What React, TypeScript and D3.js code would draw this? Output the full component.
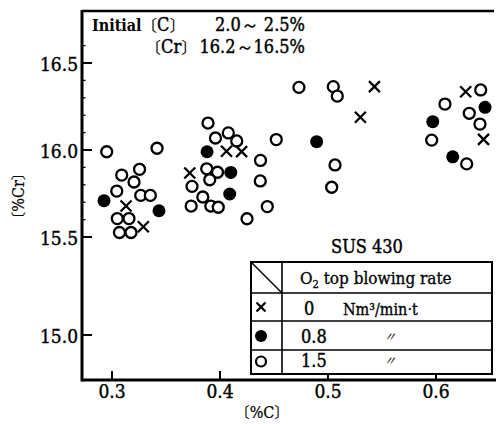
import React from "react";
import * as d3 from "d3";

const crossC = [0.313, 0.329, 0.406, 0.420, 0.372, 0.543, 0.530, 0.6275, 0.644];
const crossCr = [15.678, 15.559, 15.993, 15.991, 15.868, 16.364, 16.188, 16.335, 16.061];

const filledC = [0.2926, 0.3435, 0.388, 0.410, 0.409, 0.4895, 0.597, 0.6454, 0.6155];
const filledCr = [15.709, 15.651, 15.990, 15.871, 15.747, 16.048, 16.163, 16.245, 15.961];

const openC = [
  0.2951, 0.3417, 0.3255, 0.309, 0.3204, 0.3044, 0.3266, 0.3355, 0.3049, 0.3157, 0.3069, 0.3176,
  0.3889, 0.3958, 0.4077, 0.4155, 0.4521, 0.4375, 0.3877, 0.3977, 0.3905, 0.3741, 0.4373, 0.3841,
  0.3733, 0.3915, 0.3984, 0.4438, 0.425,
  0.4731, 0.5049, 0.5086, 0.5065, 0.5034,
  0.6414, 0.6083, 0.6308, 0.6407, 0.596, 0.6284,
];
const openCr = [
  15.990, 16.010, 15.889, 15.856, 15.816, 15.764, 15.739, 15.739, 15.606, 15.606, 15.526, 15.526,
  16.155, 16.069, 16.098, 16.052, 16.060, 15.940, 15.892, 15.872, 15.829, 15.791, 15.822, 15.730,
  15.678, 15.678, 15.671, 15.675, 15.605,
  16.360, 16.364, 16.310, 15.914, 15.786,
  16.345, 16.264, 16.211, 16.149, 16.057, 15.920,
];

const xTicks = [0.3, 0.4, 0.5, 0.6];
const xTickLabels = ["0.3", "0.4", "0.5", "0.6"];
const yTicks = [15.0, 15.5, 16.0, 16.5];
const yTickLabels = ["15.0", "15.5", "16.0", "16.5"];
const yMinor = [15.6, 15.7, 15.8, 15.9, 16.1, 16.2, 16.3, 16.4, 16.6];

const legendRates = ["0", "0.8", "1.5"];
const legendUnits = ["Nm³/min·t", "〃", "〃"];

const DSERIF = "'DejaVu Serif', serif";
const CJK = "'Noto Sans CJK JP', sans-serif";

function Cross({ x, y, s = 5.5 }: { x: number; y: number; s?: number }) {
  return (
    <g stroke="#000" strokeWidth={2.3} strokeLinecap="butt">
      <line x1={x - s} y1={y - s} x2={x + s} y2={y + s} />
      <line x1={x - s} y1={y + s} x2={x + s} y2={y - s} />
    </g>
  );
}

const num = { fontFamily: DSERIF, fontStretch: "condensed", stroke: "#000", strokeWidth: 0.4 } as const;
const boldNum = { fontFamily: DSERIF, fontStretch: "condensed", fontWeight: "bold" } as const;
const br = { fontFamily: CJK, fontSize: 16, stroke: "none" } as const;

export default function App() {
  const W = 496, H = 424;
  const x = d3.scaleLinear().domain([0.3, 0.6]).range([112, 436]);
  const y = d3.scaleLinear().domain([15.0, 15.5, 16.5]).range([335, 237, 63]);
  const left = 82, top = 11, bottom = 380, right = 495;

  const lx0 = 251, lx1 = 492, lsep = 282;
  const rows = [262, 293, 321, 350, 374];
  const symX = 261;
  const rowSymY = [307, 336, 361.5];
  const rowTextY = [315, 343, 367];

  return (
    <svg width={W} height={H} style={{ position: "absolute", left: 0, top: 0, background: "#fff" }}>
      <rect width={W} height={H} fill="#fff" />
      <line x1={left} y1={top - 1} x2={left} y2={bottom + 1.5} stroke="#000" strokeWidth={3} />
      <line x1={left} y1={top} x2={right - 1} y2={top} stroke="#000" strokeWidth={2.5} />
      <line x1={left} y1={bottom} x2={W} y2={bottom} stroke="#000" strokeWidth={3} />

      {yTicks.map((t, i) => (
        <g key={"yt" + i}>
          <line x1={left} x2={left + 10} y1={y(t)} y2={y(t)} stroke="#000" strokeWidth={2} />
          <text x={78} y={y(t) + 8} textAnchor="end" fontSize={19} {...num}>
            {yTickLabels[i]}
          </text>
        </g>
      ))}
      {yMinor.map((t, i) => (
        <line key={"ym" + i} x1={left} x2={left + 3.5} y1={y(t)} y2={y(t)} stroke="#000" strokeWidth={1.3} />
      ))}

      {xTicks.map((t, i) => (
        <g key={"xt" + i}>
          <line x1={x(t)} x2={x(t)} y1={bottom} y2={bottom - 9} stroke="#000" strokeWidth={2} />
          <text x={x(t)} y={398} textAnchor="middle" fontSize={19} {...num}>
            {xTickLabels[i]}
          </text>
        </g>
      ))}

      {/* axis titles */}
      <text x={262} y={418} textAnchor="middle" fontSize={16} {...num} strokeWidth={0.2}>
        <tspan {...br} fontSize={15}>〔</tspan>%C<tspan {...br} fontSize={15}>〕</tspan>
      </text>
      <text transform="translate(24,196) rotate(-90)" textAnchor="middle" fontSize={16} {...num} strokeWidth={0.2}>
        <tspan {...br} fontSize={15}>〔</tspan>%Cr<tspan {...br} fontSize={15}>〕</tspan>
      </text>

      {/* initial composition */}
      <text x={92} y={31} fontSize={16} {...boldNum}>Initial</text>
      <text x={141} y={31} fontSize={18} {...num}>
        <tspan {...br}>〔</tspan>C<tspan {...br}>〕</tspan>
      </text>
      <text x={305} y={31} textAnchor="end" fontSize={18} {...num}>2.0～ 2.5%</text>
      <text x={145} y={53} fontSize={18} {...num}>
        <tspan {...br}>〔</tspan>Cr<tspan {...br}>〕</tspan>
      </text>
      <text x={305} y={53} textAnchor="end" fontSize={18} {...num}>16.2～16.5%</text>

      {/* data */}
      {openC.map((c, i) => (
        <circle key={"o" + i} cx={x(c)} cy={y(openCr[i])} r={5.5} fill="#fff" stroke="#000" strokeWidth={2.3} />
      ))}
      {filledC.map((c, i) => (
        <circle key={"f" + i} cx={x(c)} cy={y(filledCr[i])} r={6.5} fill="#000" />
      ))}
      {crossC.map((c, i) => (
        <Cross key={"c" + i} x={x(c)} y={y(crossCr[i])} />
      ))}

      {/* legend */}
      <text x={367} y={253} textAnchor="middle" fontSize={18} {...num}>SUS 430</text>
      <rect x={lx0} y={rows[0]} width={lx1 - lx0} height={rows[4] - rows[0]} fill="#fff" stroke="#000" strokeWidth={2} />
      {rows.slice(1, 4).map((r, i) => (
        <line key={"lr" + i} x1={lx0} x2={lx1} y1={r} y2={r} stroke="#000" strokeWidth={1.6} />
      ))}
      <line x1={lsep} x2={lsep} y1={rows[0]} y2={rows[4]} stroke="#000" strokeWidth={1.6} />
      <line x1={lx0} y1={rows[0]} x2={lsep} y2={rows[1]} stroke="#000" strokeWidth={1.4} />
      <text x={300} y={284} fontSize={17} {...num} strokeWidth={0.3}>
        O<tspan fontSize={11} dy={4}>2</tspan><tspan dy={-4}> top blowing rate</tspan>
      </text>
      <Cross x={symX} y={rowSymY[0]} s={4.5} />
      <circle cx={symX} cy={rowSymY[1]} r={6} fill="#000" />
      <circle cx={symX} cy={rowSymY[2]} r={5} fill="#fff" stroke="#000" strokeWidth={2.2} />
      {legendRates.map((r, i) => (
        <text key={"lt" + i} x={i === 0 ? 304 : 301} y={rowTextY[i]} fontSize={18} {...num}>
          {r}
        </text>
      ))}
      <text x={343} y={rowTextY[0]} fontSize={16} {...num} strokeWidth={0.3}>
        {legendUnits[0]}
      </text>
      {legendUnits.slice(1).map((u, i) => (
        <text key={"lu" + i} x={390} y={rowTextY[i + 1] - 2} textAnchor="middle" fontFamily={CJK} fontStyle="italic" fontSize={12}>
          {u}
        </text>
      ))}
    </svg>
  );
}
